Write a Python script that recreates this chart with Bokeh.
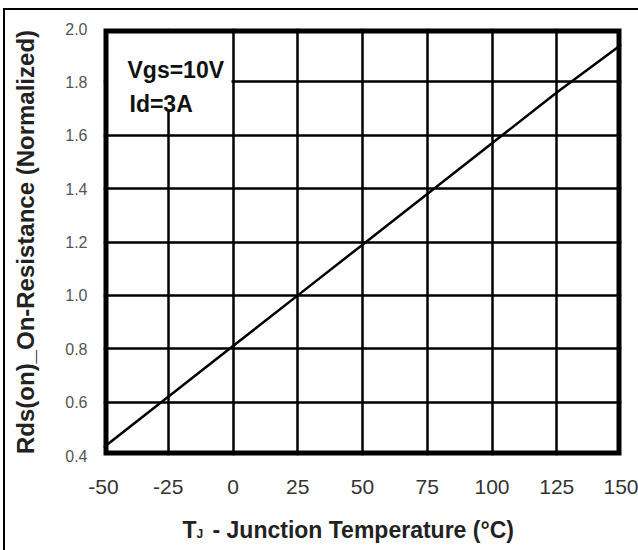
from bokeh.plotting import figure
from bokeh.models import Label, BoxAnnotation, FixedTicker, Column, Row, Div, Range1d
from bokeh.core.properties import value
from bokeh.embed import file_html
from bokeh.resources import INLINE

# Data
temps = [-50, -25, 0, 25, 50, 75, 100, 125, 150]
rds_norm = [0.43, 0.62, 0.81, 1.00, 1.19, 1.38, 1.57, 1.76, 1.94]
x_ticks = [-50, -25, 0, 25, 50, 75, 100, 125, 150]
x_tick_labels = {v: str(v) for v in x_ticks}
y_ticks = [0.4, 0.6, 0.8, 1.0, 1.2, 1.4, 1.6, 1.8, 2.0]
y_tick_labels = {v: f"{v:.1f}" for v in y_ticks}
note_lines = ["Vgs=10V", "Id=3A"]
y_title = "Rds(on)_On-Resistance (Normalized)"
x_title_parts = ["T", "J", "- Junction Temperature (°C)"]

FONT = "Liberation Sans"
XMIN, XMAX, YMIN, YMAX = -50, 150, 0.4, 2.0
# page geometry of the plot frame (outer edges of the heavy border)
OX, OY = 5, 10
FL, FR, FT, FB = 103, 621, 28, 455
W = 633
H = 495

def px_to_x(px):
    return XMIN + (px - FL) / (FR - FL) * (XMAX - XMIN)

def py_to_y(py):
    return YMAX - (py - FT) / (FB - FT) * (YMAX - YMIN)

p = figure(width=W, height=H, x_range=(XMIN, XMAX), y_range=(YMIN, YMAX),
           output_backend="svg", toolbar_location=None,
           min_border_left=FL - OX, min_border_right=OX + W - FR,
           min_border_top=FT - OY, min_border_bottom=OY + H - FB)

p.background_fill_color = None
p.border_fill_color = None
p.outline_line_color = None

# grid
p.xgrid.ticker = FixedTicker(ticks=x_ticks)
p.ygrid.ticker = FixedTicker(ticks=y_ticks)
for g in (p.xgrid, p.ygrid):
    g.grid_line_color = "black"
    g.grid_line_width = 2.5
    g.grid_line_alpha = 1

# axes
p.xaxis.ticker = FixedTicker(ticks=x_ticks)
p.yaxis.ticker = FixedTicker(ticks=y_ticks)
p.xaxis.major_label_overrides = x_tick_labels
p.yaxis.major_label_overrides = y_tick_labels
for ax in (p.xaxis, p.yaxis):
    ax.axis_line_color = None
    ax.major_tick_line_color = None
    ax.minor_tick_line_color = None
    ax.major_tick_out = 0
    ax.major_tick_in = 0
    ax.major_label_text_font = FONT

p.xaxis.major_label_text_font_size = "21px"
p.xaxis.major_label_text_color = "#333333"
p.xaxis.major_label_standoff = 24

p.yaxis.major_label_text_font_size = "16px"
p.yaxis.major_label_text_color = "#555555"
p.yaxis.major_label_standoff = 16

p.yaxis.axis_label = y_title
p.yaxis.axis_label_text_font = FONT
p.yaxis.axis_label_text_font_style = "bold"
p.yaxis.axis_label_text_font_size = "24px"
p.yaxis.axis_label_text_color = "#222222"
p.yaxis.axis_label_standoff = 23

# white box behind note
p.add_layout(BoxAnnotation(left=XMIN, right=px_to_x(231), bottom=py_to_y(109), top=YMAX,
                           fill_color="white", fill_alpha=1, line_color=None, level="glyph"))

# data line
p.line(temps, rds_norm, line_color="black", line_width=2.5)

# heavy frame (half of the line is clipped away, leaving 5px inside)
p.add_layout(BoxAnnotation(left=XMIN, right=XMAX, bottom=YMIN, top=YMAX, fill_alpha=0,
                           line_color="black", line_width=10, line_alpha=1, level="overlay"))

# note
for txt, xx, yy in zip(note_lines, [127, 129], [69, 103]):
    p.add_layout(Label(x=px_to_x(xx), y=py_to_y(yy), text=txt, text_font=FONT, text_font_style="bold",
                       text_font_size="23px", text_color="#111111", text_baseline="alphabetic"))

# x-axis title strip (frame aligned with the main plot; y in pixels, downward)
t = figure(width=W, height=45, x_range=Range1d(XMIN, XMAX), y_range=Range1d(45, 0),
           output_backend="svg", toolbar_location=None,
           x_axis_location=None, y_axis_location=None,
           min_border_left=FL - OX, min_border_right=OX + W - FR, min_border_top=0, min_border_bottom=0)
t.grid.visible = False
t.outline_line_color = None
t.background_fill_color = None
t.border_fill_color = None
t.text(x=[px_to_x(182), px_to_x(212)], y=[24, 24], text=[x_title_parts[0], x_title_parts[2]],
       text_font=value(FONT), text_font_style="bold", text_font_size="23px",
       text_color="#222222", text_baseline="alphabetic", text_align="left")
t.text(x=[px_to_x(196)], y=[28], text=[x_title_parts[1]],
       text_font=value(FONT), text_font_style="bold", text_font_size="12px",
       text_color="#222222", text_baseline="alphabetic", text_align="left")

vline = Div(text="", width=2, height=542, margin=0, styles={"background-color": "black"})
hline = Div(text="", width=W, height=2, margin=0, styles={"background-color": "black"})

layout = Row(children=[vline, Column(children=[hline, p, t], spacing=0)], spacing=0,
             styles={"margin-left": "3px", "margin-top": "8px"})

open("out.html", "w").write(file_html(layout, INLINE))
